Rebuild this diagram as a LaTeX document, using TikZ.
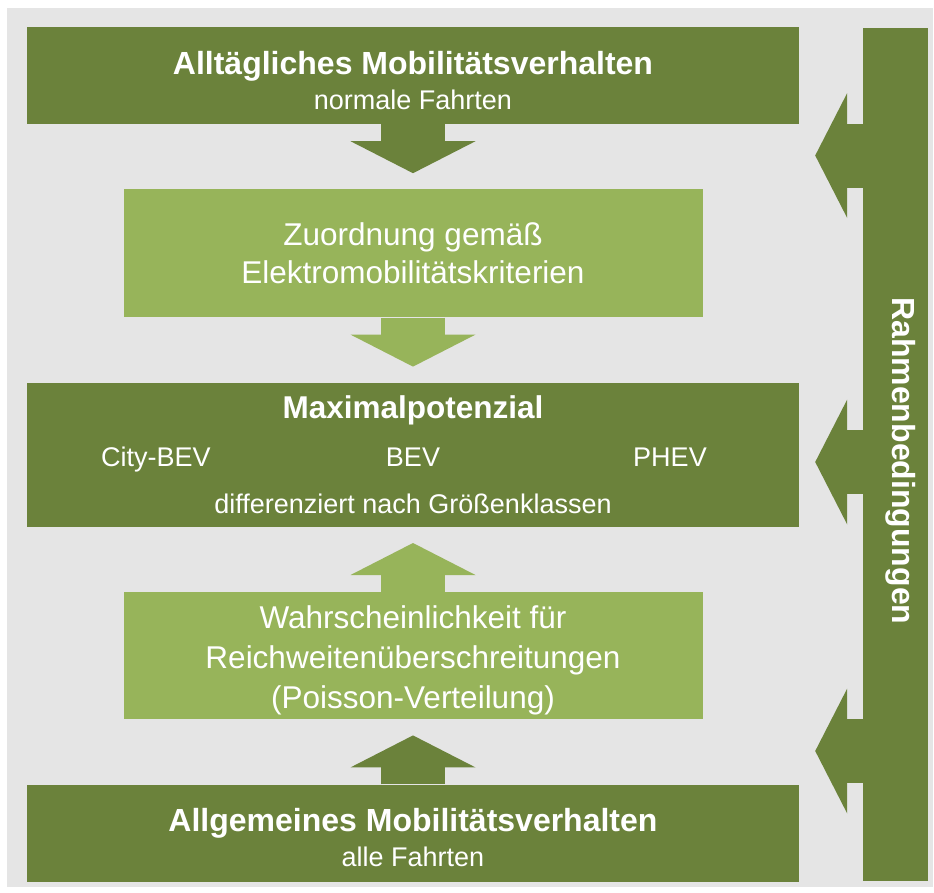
\documentclass[tikz,border=0pt]{standalone}
\usepackage{fontspec}
\setmainfont{Liberation Sans}
\usepackage{xcolor}
\usetikzlibrary{arrows.meta,positioning}

\definecolor{bggrey}{HTML}{E5E5E5}
\definecolor{darkgreen}{HTML}{6B823B}
\definecolor{lightgreen}{HTML}{97B45A}

\begin{document}
\begin{tikzpicture}[x=1pt,y=-1pt,node distance=65pt,
    darkbox/.style={fill=darkgreen,text=white,align=center,inner sep=0pt,
      minimum width=772pt,font=\fontsize{27}{35}\selectfont},
    lightbox/.style={fill=lightgreen,text=white,align=center,inner sep=0pt,
      minimum width=579pt,font=\fontsize{31.5}{38}\selectfont},
    darkarrow/.style={draw=darkgreen,line width=64pt,
      -{Triangle[width=125pt,length=32pt,line width=0pt]},shorten >=16pt},
    lightarrow/.style={darkarrow,draw=lightgreen}]
  \useasboundingbox (0,0) rectangle (934,892);
  \fill[bggrey] (7,8) rectangle (933,887);

  \node[darkbox,minimum height=97pt] (alltag) at (413,75.5)
    {\rule{0pt}{33pt}{\bfseries\fontsize{32}{35}\selectfont Alltägliches Mobilitätsverhalten}\\normale Fahrten};
  \node[lightbox,minimum height=128pt] (zuord) [below=of alltag]
    {Zuordnung gemäß\\Elektromobilitätskriterien};
  \node[darkbox,minimum height=144pt,font=\fontsize{27}{47.5}\selectfont] (maxpot) [below=of zuord]
    {{\bfseries\fontsize{31.5}{47.5}\selectfont Maximalpotenzial}\\
     \makebox[257pt]{City-BEV}\makebox[257pt]{BEV}\makebox[257pt]{PHEV}\\
     differenziert nach Größenklassen};
  \node[lightbox,minimum height=127pt,font=\fontsize{31.5}{40}\selectfont] (wahr) [below=of maxpot]
    {\rule{0pt}{33pt}Wahrscheinlichkeit für\\Reichweitenüberschreitungen\\(Poisson-Verteilung)};
  \node[darkbox,minimum height=97pt] (allg) [below=of wahr]
    {\rule{0pt}{33pt}{\bfseries\fontsize{32}{35}\selectfont Allgemeines Mobilitätsverhalten}\\alle Fahrten};
  \node[darkbox,minimum width=65pt,minimum height=853pt] (rahmen) [right=64pt of maxpot] {};
  \node[text=white,font=\bfseries\fontsize{32}{35}\selectfont,rotate=-90] (rahmen_txt)
    at ([xshift=4.5pt,yshift=-6pt]rahmen.center) {Rahmenbedingungen};

  \coordinate (lvl_1) at (0,155.5);
  \coordinate (lvl_2) at (0,462);
  \coordinate (lvl_3) at (0,751);

  % middle arrows
  \draw[darkarrow]  (alltag.south) -- (zuord.north);
  \draw[lightarrow] (zuord.south)  -- (maxpot.north);
  \draw[lightarrow] (wahr.north)   -- (maxpot.south);
  \draw[darkarrow]  (allg.north)   -- (wahr.south);
  % side arrows
  \draw[darkarrow] (rahmen.west |- lvl_1) -- (maxpot.east |- lvl_1);
  \draw[darkarrow] (rahmen.west |- lvl_2) -- (maxpot.east |- lvl_2);
  \draw[darkarrow] (rahmen.west |- lvl_3) -- (maxpot.east |- lvl_3);
\end{tikzpicture}
\end{document}
